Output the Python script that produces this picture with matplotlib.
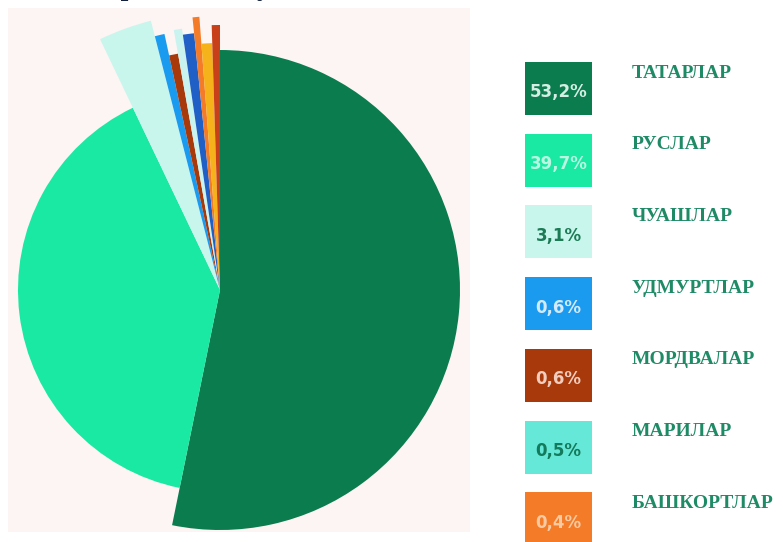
import matplotlib
matplotlib.use("Agg")
import matplotlib.pyplot as plt
from matplotlib.patches import Rectangle

# national composition (percent) - legend groups
groups = ["ТАТАРЛАР", "РУСЛАР", "ЧУАШЛАР", "УДМУРТЛАР", "МОРДВАЛАР", "МАРИЛАР", "БАШКОРТЛАР"]
group_share = [53.2, 39.7, 3.1, 0.6, 0.6, 0.5, 0.4]
group_labels = ["53,2%", "39,7%", "3,1%", "0,6%", "0,6%", "0,5%", "0,4%"]
group_colors = ["#0b7c4e", "#19e9a2", "#c8f6ed", "#1a9bf0", "#a8390b", "#66e8d8", "#f47b28"]
label_colors = ["#d5eee3", "#b9f7e2", "#1c7b55", "#d3eafc", "#f2cdbd", "#137a5c", "#f9caa2"]

# pie order (clockwise from top), incl. small unlabeled groups
pie_share = [53.2, 39.7, 3.1, 0.6, 0.6, 0.5, 0.7, 0.4, 0.7, 0.5]
pie_colors = ["#0b7c4e", "#19e9a2", "#c8f6ed", "#1a9bf0", "#a8390b", "#c9f3ee",
              "#1f5fc6", "#f47b28", "#f5b21a", "#c8401a"]
# each slice drawn with its own radius (pixels)
pie_radius = [240, 202, 278, 262, 240, 264, 258, 274, 247, 265]

W, H = 783, 542
fig = plt.figure(figsize=(W / 100, H / 100), dpi=100)
fig.patch.set_facecolor("white")
ax = fig.add_axes([0, 0, 1, 1])

# pinkish panel behind the pie
ax.add_patch(Rectangle((8, H - 532), 462, 524, facecolor="#fdf4f4", edgecolor="none", zorder=0))

wedges, _ = ax.pie(pie_share, colors=pie_colors, startangle=90, counterclock=False,
                   center=(220, H - 290), radius=240, normalize=True,
                   wedgeprops=dict(linewidth=0))
for w, r in zip(wedges, pie_radius):
    w.set_radius(r)
    w.set_zorder(2)

# legend boxes
box_x, box_w, box_h = 525, 67, 53
for i, (name, lab, col, tcol) in enumerate(zip(groups, group_labels, group_colors, label_colors)):
    top = 62 + i * 71.7
    ax.add_patch(Rectangle((box_x, H - top - box_h), box_w, box_h, facecolor=col,
                           edgecolor="none", zorder=2))
    ax.text(box_x + box_w / 2, H - (top + box_h / 2 + 4), lab, ha="center", va="center",
            fontsize=12, fontweight="bold", family="DejaVu Sans", color=tcol, zorder=3)
    ax.text(632, H - (top + 11), name, ha="left", va="center", fontsize=14,
            fontweight="bold", family="Liberation Serif", color="#1f8a66", zorder=3)

# title, mostly cut off at the top edge
ax.text(W / 2, H + 5, "Татарстан Республикасы халкының милли составы", ha="center",
        va="baseline", fontsize=20, fontweight="bold", family="Liberation Serif",
        color="#14213d")

ax.set_xlim(0, W)
ax.set_ylim(0, H)
ax.set_aspect("auto")
ax.axis("off")

fig.savefig("out.png", dpi=100)
